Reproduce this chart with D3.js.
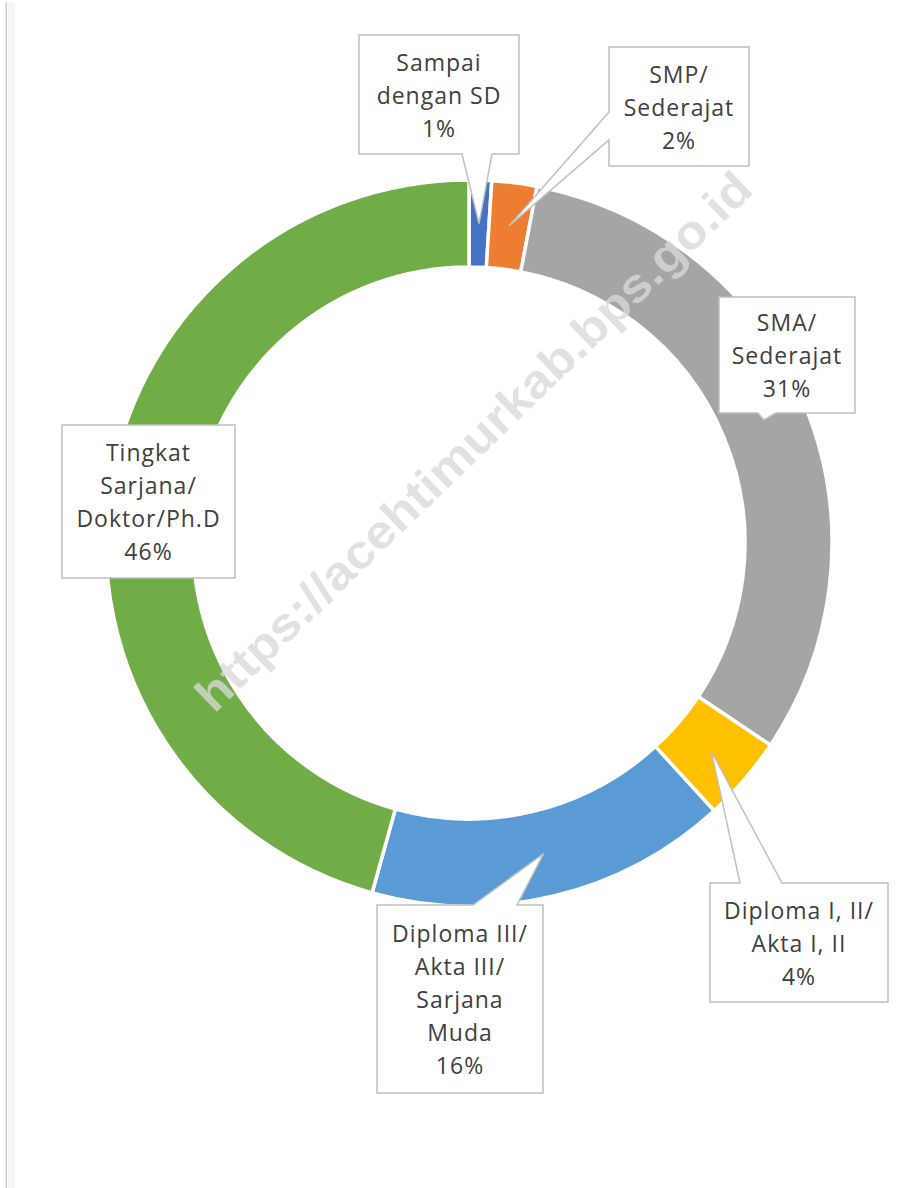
<!DOCTYPE html>
<html>
<head>
<meta charset="utf-8">
<script src="https://cdn.jsdelivr.net/npm/d3@7"></script>
<style>
  html, body { margin: 0; padding: 0; background: #ffffff; }
  svg { display: block; }
</style>
</head>
<body>
<svg id="chart" width="924" height="1188"></svg>
<script>
// ---- data ----
const categories = [
  "Sampai dengan SD",
  "SMP/Sederajat",
  "SMA/Sederajat",
  "Diploma I, II/Akta I, II",
  "Diploma III/Akta III/Sarjana Muda",
  "Tingkat Sarjana/Doktor/Ph.D"
];
const values = [1.0, 2.0, 31.4, 3.8, 16.1, 45.7];
const labelLines = [
  ["Sampai", "dengan SD"],
  ["SMP/", "Sederajat"],
  ["SMA/", "Sederajat"],
  ["Diploma I, II/", "Akta I, II"],
  ["Diploma III/", "Akta III/", "Sarjana", "Muda"],
  ["Tingkat", "Sarjana/", "Doktor/Ph.D"]
];
const colors = ["#4472C4", "#ED7D31", "#A5A5A5", "#FFC000", "#5B9BD5", "#70AD47"];
const watermarkText = "https://acehtimurkab.bps.go.id";

// ---- layout (positions only) ----
const cx = 469, cy = 543, rOuter = 363, rInner = 276;
const boxes = [
  { x: 359, y: 35,  w: 160, h: 119, side: "bottom", base: [462, 492] },
  { x: 609, y: 47,  w: 140, h: 119, side: "left",   base: [112, 140] },
  { x: 719, y: 297, w: 136, h: 116, side: "bottom", base: [758, 776] },
  { x: 710, y: 883, w: 178, h: 119, side: "top",    base: [740, 782] },
  { x: 377, y: 905, w: 166, h: 188, side: "top",    base: [473, 517] },
  { x: 62,  y: 425, w: 173, h: 153, side: null,     base: null }
];
const lineH = 33;

const svg = d3.select("#chart");

// left edge line of the source image
svg.append("rect").attr("x", 8).attr("y", 2).attr("width", 7).attr("height", 1186).attr("fill", "#f6f6f6");
svg.append("rect").attr("x", 5.5).attr("y", 2).attr("width", 1.6).attr("height", 1186).attr("fill", "#cccccc");

const g = svg.append("g").attr("transform", `translate(${cx},${cy})`);

const pie = d3.pie().sort(null).value(d => d).startAngle(0).endAngle(2 * Math.PI);
const arcs = pie(values);
const arc = d3.arc().innerRadius(rInner).outerRadius(rOuter);

g.selectAll("path.slice")
  .data(arcs)
  .join("path")
  .attr("class", "slice")
  .attr("d", arc)
  .attr("fill", (d, i) => colors[i])
  .attr("stroke", "#ffffff")
  .attr("stroke-width", 3.5)
  .attr("stroke-linejoin", "miter");

// watermark
svg.append("text")
  .attr("transform", `translate(476,444) rotate(-44)`)
  .attr("text-anchor", "middle")
  .attr("dominant-baseline", "middle")
  .attr("font-family", "'Liberation Sans', Arial, sans-serif")
  .attr("font-weight", "bold")
  .attr("font-size", 47)
  .attr("textLength", 752)
  .attr("lengthAdjust", "spacingAndGlyphs")
  .attr("fill", "#d8d8d8")
  .attr("fill-opacity", 0.78)
  .text(watermarkText);

// callouts
function calloutPath(b, tip) {
  const x0 = b.x, y0 = b.y, x1 = b.x + b.w, y1 = b.y + b.h;
  const p = d3.path();
  if (b.side === "top") {
    p.moveTo(x0, y0); p.lineTo(b.base[0], y0); p.lineTo(tip[0], tip[1]); p.lineTo(b.base[1], y0);
    p.lineTo(x1, y0); p.lineTo(x1, y1); p.lineTo(x0, y1); p.closePath();
  } else if (b.side === "bottom") {
    p.moveTo(x0, y0); p.lineTo(x1, y0); p.lineTo(x1, y1); p.lineTo(b.base[1], y1);
    p.lineTo(tip[0], tip[1]); p.lineTo(b.base[0], y1); p.lineTo(x0, y1); p.closePath();
  } else if (b.side === "left") {
    p.moveTo(x0, y0); p.lineTo(x1, y0); p.lineTo(x1, y1); p.lineTo(x0, y1);
    p.lineTo(x0, b.base[1]); p.lineTo(tip[0], tip[1]); p.lineTo(x0, b.base[0]); p.closePath();
  } else if (b.side === "right") {
    p.moveTo(x0, y0); p.lineTo(x1, y0); p.lineTo(x1, b.base[0]); p.lineTo(tip[0], tip[1]);
    p.lineTo(x1, b.base[1]); p.lineTo(x1, y1); p.lineTo(x0, y1); p.closePath();
  } else {
    p.rect(x0, y0, b.w, b.h);
  }
  return p.toString();
}

const labelG = svg.append("g");
arcs.forEach((d, i) => {
  const b = boxes[i];
  const c = arc.centroid(d);
  const tip = [cx + c[0], cy + c[1]];
  labelG.append("path")
    .attr("d", calloutPath(b, tip))
    .attr("fill", "#ffffff")
    .attr("stroke", "#bfbfbf")
    .attr("stroke-width", 1.5)
    .attr("stroke-linejoin", "miter");
  const lines = labelLines[i].concat([Math.round(values[i]) + "%"]);
  const totalH = lines.length * lineH;
  const startY = b.y + b.h / 2 - totalH / 2 + lineH / 2;
  const t = labelG.append("text")
    .attr("font-family", "'Open Sans', 'Noto Sans', sans-serif")
    .attr("font-size", 23)
    .attr("letter-spacing", 1)
    .attr("fill", "#404040")
    .attr("text-anchor", "middle");
  lines.forEach((ln, k) => {
    t.append("tspan")
      .attr("x", b.x + b.w / 2)
      .attr("y", startY + k * lineH)
      .attr("dominant-baseline", "central")
      .text(ln);
  });
});
</script>
</body>
</html>
